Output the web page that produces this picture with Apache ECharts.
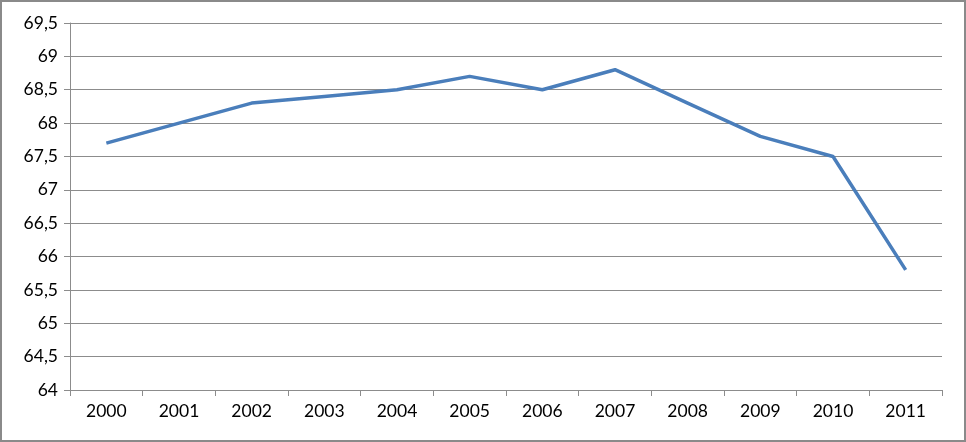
<!DOCTYPE html>
<html>
<head>
<meta charset="utf-8">
<script src="https://cdn.jsdelivr.net/npm/echarts@6/dist/echarts.min.js"></script>
<style>
  html, body { margin: 0; padding: 0; background: #fff; }
  #chart { width: 966px; height: 442px; box-sizing: border-box; border: 2px solid #8a8a8a; }
</style>
</head>
<body>
<div id="chart"></div>
<script>
const years = ['2000', '2001', '2002', '2003', '2004', '2005', '2006', '2007', '2008', '2009', '2010', '2011'];
const values = [67.7, 68.0, 68.3, 68.4, 68.5, 68.7, 68.5, 68.8, 68.3, 67.8, 67.5, 65.8];

const chart = echarts.init(document.getElementById('chart'));

const option = {
    animation: false,
    grid: {
        left: 68,
        right: 22,
        top: 21,
        bottom: 50
    },
    xAxis: {
        type: 'category',
        data: years,
        boundaryGap: true,
        axisLine: { lineStyle: { color: '#8c8c8c', width: 1 } },
        axisTick: { show: true, length: 6, lineStyle: { color: '#8c8c8c' } },
        axisLabel: {
            color: '#000',
            fontSize: 17.5,
            fontFamily: 'Lato, "Open Sans", sans-serif',
            margin: 12
        }
    },
    yAxis: {
        type: 'value',
        min: 64,
        max: 69.5,
        interval: 0.5,
        axisLine: { show: true, lineStyle: { color: '#8c8c8c', width: 1 } },
        axisTick: { show: true, length: 6, lineStyle: { color: '#8c8c8c' } },
        splitLine: { show: true, lineStyle: { color: '#8c8c8c', width: 1 } },
        axisLabel: {
            color: '#000',
            fontSize: 17.5,
            fontFamily: 'Lato, "Open Sans", sans-serif',
            margin: 12,
            formatter: function (v) {
                return String(v).replace('.', ',');
            }
        }
    },
    series: [{
        type: 'line',
        data: values,
        symbol: 'none',
        lineStyle: { color: '#4a7ebb', width: 3.5 },
        itemStyle: { color: '#4a7ebb' }
    }]
};

chart.setOption(option);
</script>
</body>
</html>
